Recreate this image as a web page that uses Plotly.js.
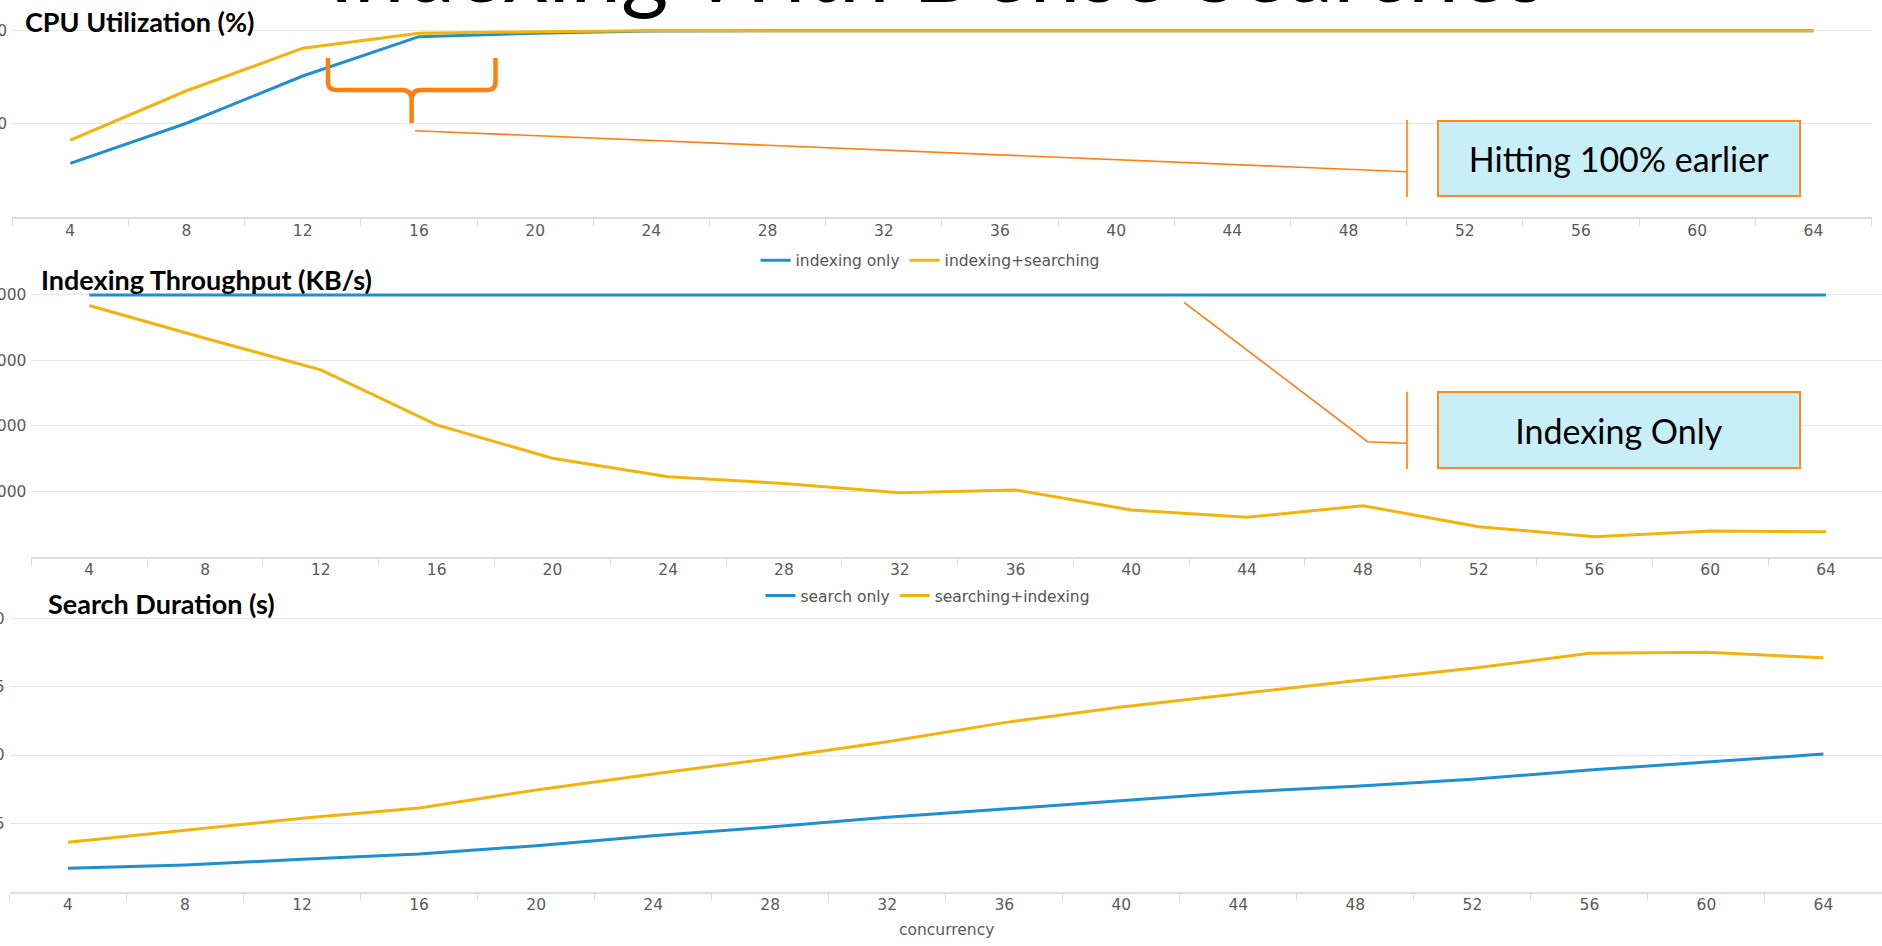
<!DOCTYPE html>
<html>
<head>
<meta charset="utf-8">
<script src="https://cdn.plot.ly/plotly-3.0.1.min.js"></script>
<style>
html,body{margin:0;padding:0;background:#fff;overflow:hidden;}
#chart{width:1882px;height:946px;}
</style>
</head>
<body>
<div id="chart"></div>
<script>
// ---- data ----
const CONCURRENCY = ['4','8','12','16','20','24','28','32','36','40','44','48','52','56','60','64'];

const CPU_INDEXING_ONLY      = [28.9, 50.4, 75.7, 96.8, 98.6, 99.8, 100, 100, 100, 100, 100, 100, 100, 100, 100, 100];
const CPU_INDEXING_SEARCHING = [41.4, 67.8, 90.6, 98.6, 99.4, 99.9, 100, 100, 100, 100, 100, 100, 100, 100, 100, 100];

const THROUGHPUT_INDEXING_ONLY      = [4000, 4000, 4000, 4000, 4000, 4000, 4000, 4000, 4000, 4000, 4000, 4000, 4000, 4000, 4000, 4000];
const THROUGHPUT_INDEXING_SEARCHING = [3838, 3339, 2855, 2014, 1505, 1223, 1120, 979, 1020, 714, 602, 780, 459, 306, 393, 382];

const SEARCH_ONLY        = [1.71, 1.95, 2.37, 2.76, 3.36, 4.10, 4.73, 5.44, 6.05, 6.66, 7.28, 7.72, 8.22, 8.90, 9.51, 10.07];
const SEARCHING_INDEXING = [3.61, 4.51, 5.37, 6.12, 7.44, 8.61, 9.74, 10.97, 12.37, 13.51, 14.48, 15.44, 16.34, 17.44, 17.51, 17.12];

const CPU_TICKS = [50, 100];
const THROUGHPUT_TICKS = [1000, 2000, 3000, 4000];
const SEARCH_TICKS = [5, 10, 15, 20];

// ---- styling ----
const W = 1882, H = 946;
const px = x => x / W;
const py = y => 1 - y / H;
const BLUE = '#1f8fd1';
const YELLOW = '#f2b30c';
const ORANGE = '#ff7f0e';
const GRID = '#e6e6e6';
const AXIS = '#d8dddd';
const TICKFONT = {family: 'DejaVu Sans', size: 15.5, color: '#5a5a5a'};

function xAxis(domainL, domainR, rangeR, anchor) {
  return {
    type: 'category', domain: [px(domainL), domainR], anchor: anchor,
    range: [-0.5, rangeR], tickson: 'boundaries', ticks: 'outside', ticklen: 7,
    tickcolor: AXIS, tickwidth: 1, showline: true, linecolor: AXIS, linewidth: 2,
    showgrid: false, zeroline: false, tickfont: TICKFONT, ticklabelstandoff: -2,
    fixedrange: true
  };
}
function yAxis(bottomPx, topPx, range, ticks, anchor) {
  return {
    domain: [py(bottomPx), py(topPx)], anchor: anchor, range: range,
    tickmode: 'array', tickvals: ticks, ticks: '', showgrid: true, gridcolor: GRID,
    gridwidth: 1, zeroline: false, showline: false, tickfont: TICKFONT,
    ticklabelstandoff: 4, fixedrange: true
  };
}

const traces = [
  {x: CONCURRENCY, y: CPU_INDEXING_ONLY, name: 'indexing only', type: 'scatter', mode: 'lines',
   line: {color: BLUE, width: 3}, xaxis: 'x', yaxis: 'y', legend: 'legend'},
  {x: CONCURRENCY, y: CPU_INDEXING_SEARCHING, name: 'indexing+searching', type: 'scatter', mode: 'lines',
   line: {color: YELLOW, width: 3}, xaxis: 'x', yaxis: 'y', legend: 'legend'},
  {x: CONCURRENCY, y: THROUGHPUT_INDEXING_ONLY, name: 'indexing only', type: 'scatter', mode: 'lines',
   line: {color: BLUE, width: 3}, xaxis: 'x2', yaxis: 'y2', showlegend: false},
  {x: CONCURRENCY, y: THROUGHPUT_INDEXING_SEARCHING, name: 'indexing+searching', type: 'scatter', mode: 'lines',
   line: {color: YELLOW, width: 3}, xaxis: 'x2', yaxis: 'y2', showlegend: false},
  {x: CONCURRENCY, y: SEARCH_ONLY, name: 'search only', type: 'scatter', mode: 'lines',
   line: {color: BLUE, width: 3}, xaxis: 'x3', yaxis: 'y3', legend: 'legend2'},
  {x: CONCURRENCY, y: SEARCHING_INDEXING, name: 'searching+indexing', type: 'scatter', mode: 'lines',
   line: {color: YELLOW, width: 3}, xaxis: 'x3', yaxis: 'y3', legend: 'legend2'}
];

function pathPx(str) {
  // convert "x,y" pixel pairs in a path string into paper coordinates
  return str.replace(/(-?[\d.]+),(-?[\d.]+)/g, (m, a, b) => px(+a).toFixed(5) + ',' + py(+b).toFixed(5));
}

const shapes = [
  // curly brace
  {type: 'path', xref: 'paper', yref: 'paper', line: {color: ORANGE, width: 4.5},
   path: pathPx('M328,58 L328,82 Q328,90 337,90 L402,90 Q411.6,90 411.6,100 L411.6,123 M411.6,100 Q411.6,90 421,90 L486.5,90 Q495.5,90 495.5,82 L495.5,58')},
  // callout 1
  {type: 'path', xref: 'paper', yref: 'paper', line: {color: ORANGE, width: 1.6},
   path: pathPx('M415,130.7 L1407,171.7')},
  {type: 'path', xref: 'paper', yref: 'paper', line: {color: ORANGE, width: 1.6},
   path: pathPx('M1407,120 L1407,197')},
  // callout 2
  {type: 'path', xref: 'paper', yref: 'paper', line: {color: ORANGE, width: 1.6},
   path: pathPx('M1184,302.3 L1367.6,441.7 L1407,443.3')},
  {type: 'path', xref: 'paper', yref: 'paper', line: {color: ORANGE, width: 1.6},
   path: pathPx('M1407,391.7 L1407,469')}
];

const titleFont = {family: 'Lato', size: 27, color: '#000'};
const annotations = [
  {text: 'Indexing With Dense Searches', xref: 'paper', yref: 'paper', x: px(937.5), y: py(23),
   xanchor: 'center', yanchor: 'bottom', showarrow: false, font: {family: 'Lato', size: 91, color: '#000'}},
  {text: '<b>CPU Utilization (%)</b>', xref: 'paper', yref: 'paper', x: px(23), y: py(21.7),
   xanchor: 'left', yanchor: 'middle', showarrow: false, font: titleFont},
  {text: '<b>Indexing Throughput (KB/s)</b>', xref: 'paper', yref: 'paper', x: px(39), y: py(279),
   xanchor: 'left', yanchor: 'middle', showarrow: false, font: titleFont},
  {text: '<b>Search Duration (s)</b>', xref: 'paper', yref: 'paper', x: px(46), y: py(603),
   xanchor: 'left', yanchor: 'middle', showarrow: false, font: titleFont},
  {text: 'Hitting 100% earlier', xref: 'paper', yref: 'paper', x: px(1619), y: py(158.7),
   xanchor: 'center', yanchor: 'middle', showarrow: false, width: 360, height: 73,
   bgcolor: '#c8eef7', bordercolor: '#ff8a1c', borderwidth: 2, borderpad: 0,
   font: {family: 'Lato', size: 34, color: '#000'}},
  {text: 'Indexing Only', xref: 'paper', yref: 'paper', x: px(1619), y: py(430.2),
   xanchor: 'center', yanchor: 'middle', showarrow: false, width: 360, height: 74,
   bgcolor: '#c8eef7', bordercolor: '#ff8a1c', borderwidth: 2, borderpad: 0,
   font: {family: 'Lato', size: 34, color: '#000'}},
  {text: 'concurrency', xref: 'paper', yref: 'paper', x: px(947), y: py(930),
   xanchor: 'center', yanchor: 'middle', showarrow: false,
   font: {family: 'DejaVu Sans', size: 15.5, color: '#5a5a5a'}}
];

const legendFont = {family: 'DejaVu Sans', size: 15.5, color: '#555'};
const layout = {
  width: W, height: H, margin: {l: 0, r: 0, t: 0, b: 0},
  paper_bgcolor: '#fff', plot_bgcolor: '#fff',
  xaxis: xAxis(12.2, px(1871.5), 15.5, 'y'),
  yaxis: yAxis(217.3, 23.2, [0, 104], CPU_TICKS, 'x'),
  xaxis2: xAxis(31.4, 1, 15.4836, 'y2'),
  yaxis2: yAxis(556.7, 288.4, [0, 4100], THROUGHPUT_TICKS, 'x2'),
  xaxis3: xAxis(9.5, 1, 15.5, 'y3'),
  yaxis3: yAxis(891.7, 611.5, [0, 20.5], SEARCH_TICKS, 'x3'),
  legend: {orientation: 'h', x: px(930), xanchor: 'center', y: py(260.7), yanchor: 'middle',
           font: legendFont, bgcolor: 'rgba(0,0,0,0)'},
  legend2: {orientation: 'h', x: px(928), xanchor: 'center', y: py(596), yanchor: 'middle',
            font: legendFont, bgcolor: 'rgba(0,0,0,0)'},
  shapes: shapes,
  annotations: annotations,
  showlegend: true
};

Plotly.newPlot('chart', traces, layout, {displayModeBar: false, staticPlot: true});
</script>
</body>
</html>
